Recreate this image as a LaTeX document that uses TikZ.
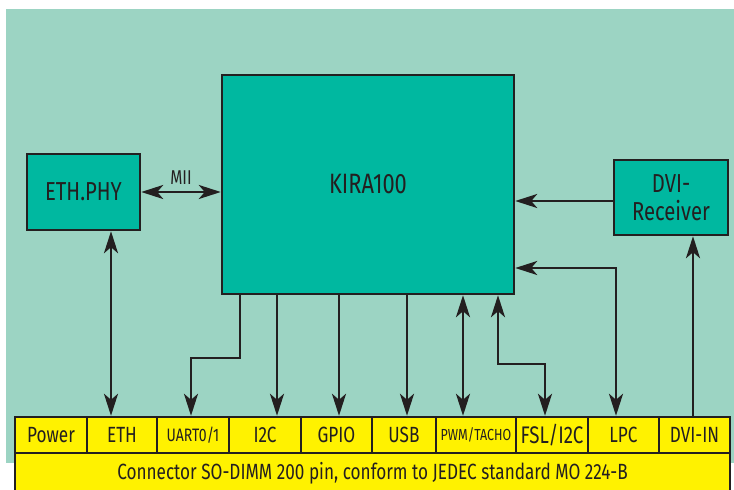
\documentclass[tikz,border=0pt]{standalone}
\usepackage{fontspec}
\setmainfont{Fira Sans}[FakeStretch=0.78]
\usetikzlibrary{arrows.meta}
\definecolor{bgteal}{RGB}{156,212,195}
\definecolor{chipteal}{RGB}{0,184,160}
\definecolor{pinyellow}{RGB}{255,242,0}
\definecolor{ink}{RGB}{35,31,32}

\newcommand{\fs}[1]{\fontsize{#1}{#1}\selectfont}

\begin{document}
\begin{tikzpicture}[x=1pt,y=-1pt,line join=miter,
  chip/.style={draw=ink,fill=chipteal,line width=2.4pt,inner sep=0pt,text=ink,align=center},
  pin/.style={draw=ink,fill=pinyellow,line width=2.4pt,inner sep=0pt,minimum height=36pt,text=ink,font=\fs{22}},
  arr/.style={draw=ink,line width=2.8pt,-{Stealth[length=22pt,width=14pt,inset=6pt]}},
  dblarr/.style={draw=ink,line width=2.8pt,{Stealth[length=22pt,width=14pt,inset=6pt]}-{Stealth[length=22pt,width=14pt,inset=6pt]}}]
\useasboundingbox (0,0) rectangle (734,490);
\clip (0,0) rectangle (734,490);
\fill[bgteal] (6,9) rectangle (734,463);
% blocks
\node[chip,minimum width=292pt,minimum height=219pt,font=\fs{28}] (kira) at (368,184.5) {KIRA100};
\node[chip,minimum width=113pt,minimum height=76pt,font=\fs{26}] (ethphy) at (83.5,192) {ETH.PHY};
\node[chip,minimum width=114pt,minimum height=75pt,font=\fs{26}] (dvirx) at (671,197.5) {DVI-\\[2pt]Receiver};
% connector pins
\node[pin,minimum width=72pt] (power) at (51,435) {Power};
\node[pin,minimum width=70pt] (eth) at (122,435) {ETH};
\node[pin,minimum width=72pt,font=\fs{18}] (uart) at (193,435) {UART0/1};
\node[pin,minimum width=72pt] (i2c) at (265,435) {I2C};
\node[pin,minimum width=71pt] (gpio) at (336.5,435) {GPIO};
\node[pin,minimum width=64pt] (usb) at (404,435) {USB};
\node[pin,minimum width=80pt,font=\fs{16}] (pwm) at (476,435) {PWM/TACHO};
\node[pin,minimum width=72pt,font=\fs{24}] (fsl) at (552,435) {FSL/I2C};
\node[pin,minimum width=71pt] (lpc) at (623.5,435) {LPC};
\node[pin,minimum width=71pt] (dviin) at (694.5,435) {DVI-IN};
\node[pin,minimum width=715pt,minimum height=40pt] (sodimm) at (372.5,473) {Connector SO-DIMM 200 pin, conform to JEDEC standard MO 224-B};
% signals
\draw[dblarr] (ethphy.east) -- node[above=3pt,text=ink,font=\fs{20}] {MII} (ethphy.east -| kira.west);
\draw[arr] (dvirx.west |- 0,201) -- (kira.east |- 0,201);
\draw[dblarr] (ethphy.south -| 111,0) -- (eth.north -| 111,0);
\draw[arr] (kira.south -| 240,0) -- (240,358) -| (uart.north -| 191,0);
\draw[arr] (kira.south -| 277,0) -- (i2c.north -| 277,0);
\draw[arr] (kira.south -| 339,0) -- (gpio.north -| 339,0);
\draw[arr] (kira.south -| 407,0) -- (usb.north -| 407,0);
\draw[dblarr] (kira.south -| 463,0) -- (pwm.north -| 463,0);
\draw[dblarr] (kira.south -| 498,0) -- (498,364) -| (fsl.north -| 545,0);
\draw[dblarr] (kira.east |- 0,268) -| (lpc.north -| 616,0);
\draw[arr] (dviin.north -| 693,0) -- (dvirx.south -| 693,0);
\end{tikzpicture}
\end{document}
